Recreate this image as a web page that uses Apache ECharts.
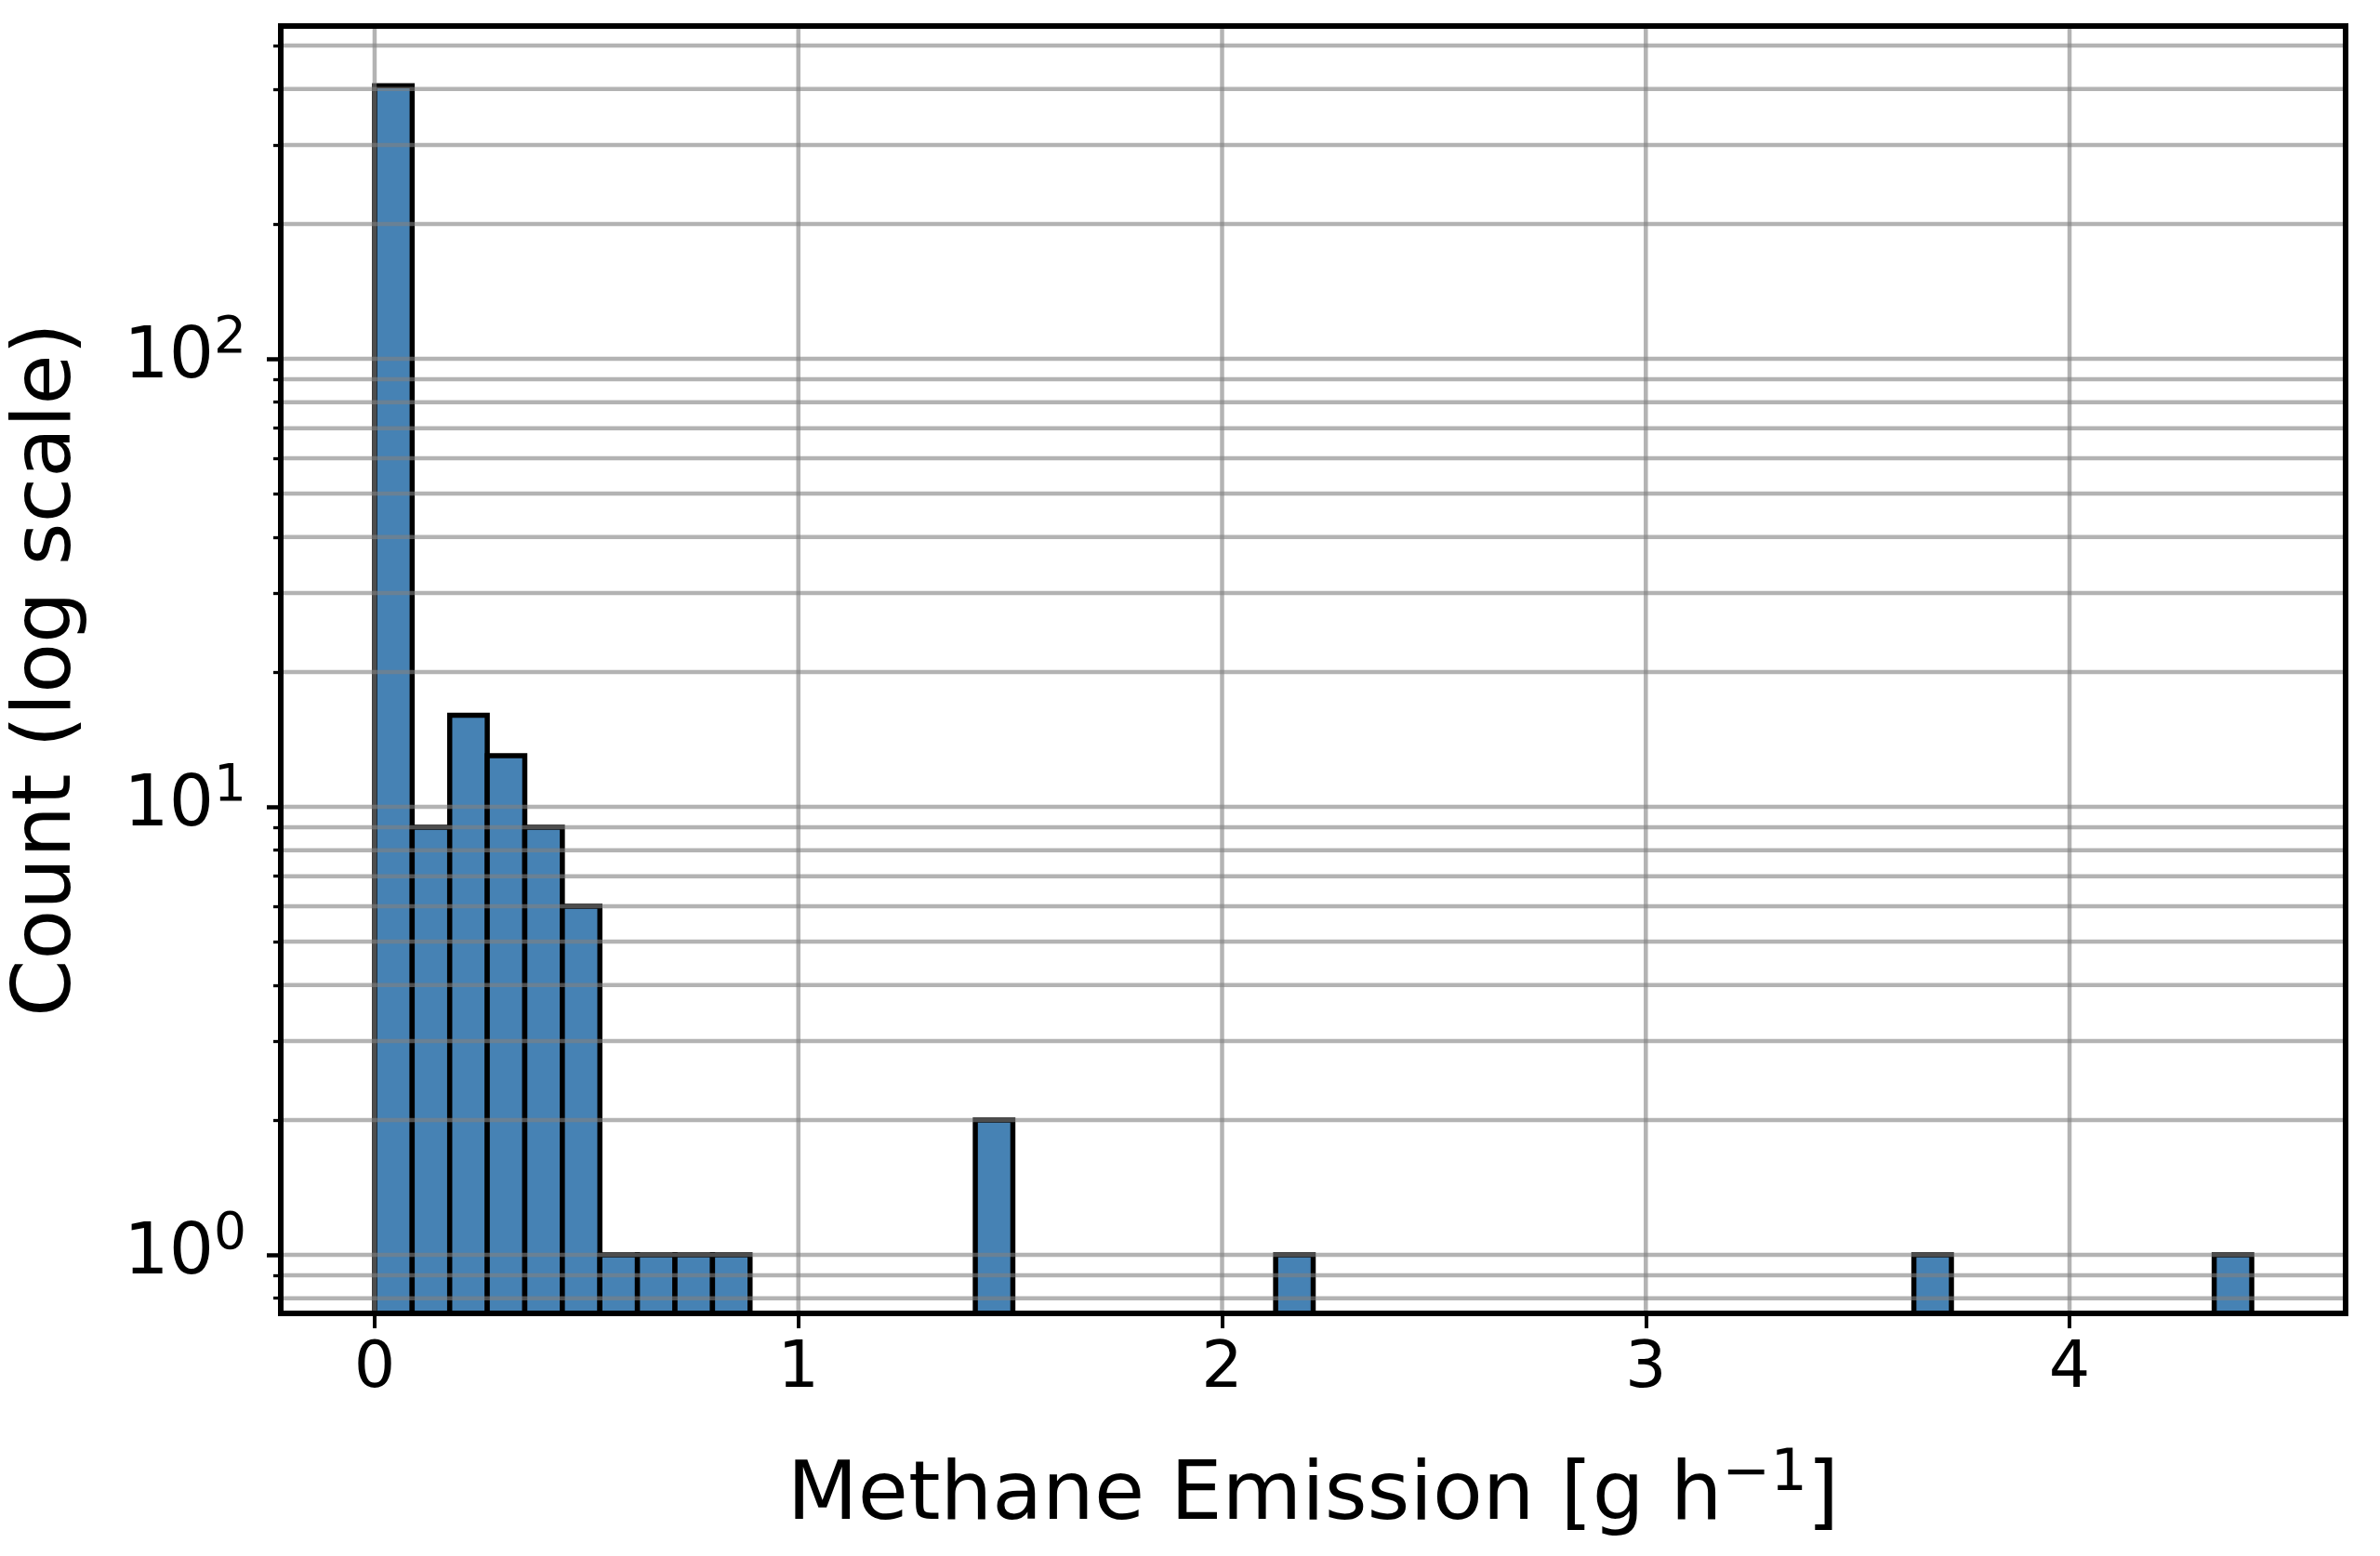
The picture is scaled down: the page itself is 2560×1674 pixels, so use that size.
<!DOCTYPE html>
<html>
<head>
<meta charset="utf-8">
<script src="https://cdn.jsdelivr.net/npm/echarts@6/dist/echarts.min.js"></script>
<style>
  html, body { margin: 0; padding: 0; background: #fff; }
  #chart { width: 2560px; height: 1674px; }
</style>
</head>
<body>
<div id="chart"></div>
<script>
// histogram of methane emission, 50 equal bins from 0 to the largest value
const binMax = 4.43
const binCount = 50
const filledBins = [0, 1, 2, 3, 4, 5, 6, 7, 8, 9, 16, 24, 41, 49] // bin index
const binCounts = [407, 9, 16, 13, 9, 6, 1, 1, 1, 1, 2, 1, 1, 1]

const xTicks = [0, 1, 2, 3, 4]
const yMajor = [1, 10, 100]
const yMinor = [0.8, 0.9, 2, 3, 4, 5, 6, 7, 8, 9, 20, 30, 40, 50, 60, 70, 80, 90, 200, 300, 400, 500]

// axis limits (matplotlib style 5% margins)
const xMin = -0.2215
const xMax = 4.6515
const yMin = 0.74
const yMax = 553

const font = 'DejaVu Sans'
const gridColor = 'rgba(128,128,128,0.6)'
const binWidth = binMax / binCount

const barData = filledBins.map((b, i) => [b * binWidth, (b + 1) * binWidth, binCounts[i]])

function logLabel(v) {
  const e = Math.round(Math.log10(v))
  return '{b|10}{s|' + e + '}'
}

const chart = echarts.init(document.getElementById('chart'))

const option = {
  backgroundColor: '#fff',
  animation: false,
  grid: { left: 302, right: 37, top: 28, bottom: 261, containLabel: false },
  xAxis: [
    {
      type: 'value', position: 'bottom', min: xMin, max: xMax, z: 10,
      axisLine: { onZero: false, lineStyle: { color: '#000', width: 6, cap: 'square' } },
      axisTick: { customValues: xTicks, length: 16, lineStyle: { color: '#000', width: 4 } },
      axisLabel: {
        customValues: xTicks, fontFamily: font, fontSize: 70, lineHeight: 70,
        color: '#000', margin: 26,
      },
      splitLine: { show: false },
      name: 'Methane Emission [g h{s|\u22121}]',
      nameLocation: 'middle',
      nameGap: 143,
      nameTextStyle: {
        fontFamily: font, fontSize: 88, lineHeight: 110, color: '#000',
        rich: { s: { fontFamily: font, fontSize: 62, lineHeight: 62, padding: [0, 0, 48, 0], color: '#000' } },
      },
    },
    {
      type: 'value', position: 'top', min: xMin, max: xMax, z: 10,
      axisLine: { onZero: false, lineStyle: { color: '#000', width: 6, cap: 'square' } },
      axisTick: { show: false }, axisLabel: { show: false }, splitLine: { show: false },
    },
  ],
  yAxis: [
    {
      type: 'log', logBase: 10, position: 'left', min: yMin, max: yMax, z: 10,
      axisLine: { onZero: false, lineStyle: { color: '#000', width: 6, cap: 'square' } },
      axisTick: { customValues: yMajor, length: 15, lineStyle: { color: '#000', width: 4.5 } },
      axisLabel: {
        customValues: yMajor, margin: 37, color: '#000',
        formatter: logLabel,
        rich: {
          b: { fontFamily: font, fontSize: 76, lineHeight: 98, color: '#000' },
          s: { fontFamily: font, fontSize: 55, lineHeight: 55, padding: [0, 0, 43, 0], color: '#000' },
        },
      },
      splitLine: { show: false },
      minorTick: { show: false },
      name: 'Count (log scale)',
      nameLocation: 'middle',
      nameRotate: 90,
      nameGap: 206,
      nameTextStyle: { fontFamily: font, fontSize: 88, lineHeight: 88, color: '#000' },
    },
    {
      // minor ticks
      type: 'log', logBase: 10, position: 'left', min: yMin, max: yMax, z: 10,
      axisLine: { show: false, onZero: false },
      axisTick: { customValues: yMinor, length: 8, lineStyle: { color: '#000', width: 3.3 } },
      axisLabel: { show: false },
      splitLine: { show: false },
    },
    {
      type: 'value', position: 'right', min: 0, max: 1, z: 10,
      axisLine: { onZero: false, lineStyle: { color: '#000', width: 6, cap: 'square' } },
      axisTick: { show: false }, axisLabel: { show: false }, splitLine: { show: false },
    },
  ],
  series: [
    {
      type: 'custom',
      name: 'bars',
      xAxisIndex: 0, yAxisIndex: 0,
      clip: true,
      z: 2,
      data: barData,
      renderItem(params, api) {
        const p0 = api.coord([api.value(0), api.value(2)])
        const p1 = api.coord([api.value(1), yMin])
        return {
          type: 'rect',
          shape: { x: p0[0], y: p0[1], width: p1[0] - p0[0], height: p1[1] - p0[1] },
          style: { fill: '#4682b4', stroke: '#000', lineWidth: 5.5 },
        }
      },
    },
    {
      // horizontal grid lines, drawn over the bars
      type: 'custom',
      name: 'hgrid',
      xAxisIndex: 0, yAxisIndex: 0,
      z: 3,
      data: yMajor.concat(yMinor).map(v => [0, v]),
      renderItem(params, api) {
        const cs = params.coordSys
        const y = api.coord([0, api.value(1)])[1]
        return {
          type: 'line',
          shape: { x1: cs.x + 3, y1: y, x2: cs.x + cs.width - 3, y2: y },
          style: { stroke: gridColor, lineWidth: 4.5 },
        }
      },
    },
    {
      type: 'custom',
      name: 'vgrid',
      xAxisIndex: 0, yAxisIndex: 0,
      z: 3,
      data: xTicks.map(v => [v, 1]),
      renderItem(params, api) {
        const cs = params.coordSys
        const x = api.coord([api.value(0), 1])[0]
        return {
          type: 'line',
          shape: { x1: x, y1: cs.y + 3, x2: x, y2: cs.y + cs.height - 3 },
          style: { stroke: gridColor, lineWidth: 4.5 },
        }
      },
    },
  ],
}

chart.setOption(option)
</script>
</body>
</html>
